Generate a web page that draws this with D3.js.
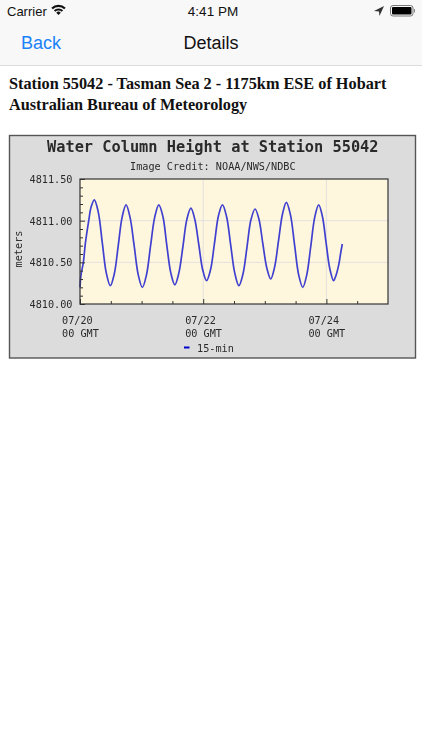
<!DOCTYPE html>
<html>
<head>
<meta charset="utf-8">
<script src="https://cdn.jsdelivr.net/npm/d3@7"></script>
<style>
html, body { margin: 0; padding: 0; background: #fff; }
svg { display: block; }
.ui { font-family: "Liberation Sans", sans-serif; }
.mono { font-family: "DejaVu Sans Mono", monospace; fill: #2a2a2a; filter: url(#soft); }
.axis path { display: none; }
</style>
</head>
<body>
<div id="chart"></div>
<script>
// hours since 07/20 00 GMT
var hours = [0, 0.4, 1.3, 2.1, 3.4, 4.3, 5.58,
    7.14, 8.7, 10.26, 11.82, 13.35, 14.9, 16.4, 17.95,
    19.5, 21.1, 22.7, 24.3, 25.9, 27.5, 29.1, 30.7,
    32.3, 33.8, 35.4, 36.96, 38.5, 40.1, 41.6, 43.2,
    44.7, 46.25, 47.8, 49.3, 50.85, 52.4, 53.95, 55.5,
    57.1, 58.7, 60.3, 61.9, 63.5, 65.05, 66.6, 68.2,
    69.7, 71.25, 72.8, 74.3, 75.8, 77.35, 78.9, 80.4,
    82, 83.6, 85.2, 86.8, 88.35, 89.9, 91.45, 93,
    94.45, 95.9, 97.35, 98.8, 99.7, 100.8, 101.5, 102.2];
var heights = [4810.20, 4810.35, 4810.50, 4810.73, 4811.00, 4811.16, 4811.25,
    4811.10, 4810.73, 4810.37, 4810.22, 4810.36, 4810.70, 4811.04, 4811.19,
    4811.04, 4810.70, 4810.35, 4810.20, 4810.35, 4810.70, 4811.04, 4811.19,
    4811.05, 4810.71, 4810.37, 4810.23, 4810.37, 4810.69, 4811.01, 4811.15,
    4811.02, 4810.72, 4810.41, 4810.28, 4810.41, 4810.73, 4811.06, 4811.19,
    4811.05, 4810.71, 4810.37, 4810.22, 4810.36, 4810.68, 4811.01, 4811.14,
    4811.02, 4810.72, 4810.43, 4810.30, 4810.44, 4810.76, 4811.08, 4811.22,
    4811.07, 4810.71, 4810.35, 4810.20, 4810.35, 4810.69, 4811.04, 4811.19,
    4811.05, 4810.73, 4810.42, 4810.28, 4810.34, 4810.47, 4810.60, 4810.72];
var yLabelTicks = [4810, 4810.5, 4811, 4811.5];
var yMinorTicks = [4810.1, 4810.2, 4810.3, 4810.4, 4810.6, 4810.7, 4810.8, 4810.9,
    4811.1, 4811.2, 4811.3, 4811.4];
var xLabelHours = [0, 48, 96];
var xLabelDates = ["07/20", "07/22", "07/24"];
var xMinorHours = [12, 24, 36, 60, 72, 84, 108];
var headline = ["Station 55042 - Tasman Sea 2 - 1175km ESE of Hobart",
    "Australian Bureau of Meteorology"];

var svg = d3.select("#chart").append("svg").attr("width", 422).attr("height", 750);
svg.append("defs").append("filter").attr("id", "soft")
    .append("feGaussianBlur").attr("stdDeviation", 0.25);

// status bar and nav bar
svg.append("rect").attr("width", 422).attr("height", 65).attr("fill", "#f8f8f8");
svg.append("line").attr("x1", 0).attr("x2", 422).attr("y1", 65.5).attr("y2", 65.5).attr("stroke", "#dcdcdc");

function uiText(x, y, size, weight, color, anchor, str) {
    svg.append("text").attr("class", "ui").attr("x", x).attr("y", y)
        .attr("font-size", size).attr("font-weight", weight).attr("fill", color)
        .attr("text-anchor", anchor).text(str);
}
uiText(7, 15.5, 13, 400, "#111", "start", "Carrier");
uiText(213, 15.5, 13.5, 400, "#111", "middle", "4:41 PM");
uiText(21, 49, 18, 400, "#1a82f7", "start", "Back");
uiText(211, 49, 18, 400, "#111", "middle", "Details");

// wifi
var wifi = svg.append("g").attr("transform", "translate(58.5,15)");
var wifiArc = d3.arc().startAngle(-Math.PI / 4).endAngle(Math.PI / 4);
[[0, 3.2], [4.6, 6.6], [8, 10.2]].forEach(function(r) {
    wifi.append("path").attr("fill", "#111")
        .attr("d", wifiArc({innerRadius: r[0], outerRadius: r[1]}));
});
// location arrow
svg.append("path").attr("d", "M384,6 L374,11 L379,11.5 L379.5,16 Z").attr("fill", "#333");
// battery
svg.append("rect").attr("x", 390.5).attr("y", 5.5).attr("width", 22.5).attr("height", 10.5).attr("rx", 2.5)
    .attr("fill", "none").attr("stroke", "#777");
svg.append("rect").attr("x", 392).attr("y", 7).attr("width", 19.5).attr("height", 7.5).attr("rx", 1).attr("fill", "#000");
svg.append("rect").attr("x", 414).attr("y", 9).attr("width", 1).attr("height", 3.5).attr("fill", "#888");

// headline
svg.selectAll(".headline").data(headline).enter().append("text")
    .attr("class", "headline")
    .attr("x", 9)
    .attr("y", function(d, i) { return 89 + i * 21; })
    .attr("font-family", "'Liberation Serif', serif")
    .attr("font-weight", "bold")
    .attr("font-size", 16.25)
    .attr("fill", "#111")
    .text(function(d) { return d; });

// chart image
var margin = {left: 80, right: 388, top: 179, bottom: 304};
svg.append("rect").attr("x", 9.5).attr("y", 135.5).attr("width", 406).attr("height", 222.5)
    .attr("fill", "#dcdcdc").attr("stroke", "#555").attr("stroke-width", 1.4);
svg.append("rect").attr("x", margin.left).attr("y", margin.top)
    .attr("width", margin.right - margin.left).attr("height", margin.bottom - margin.top)
    .attr("fill", "#fef7dd");

var x = d3.scaleLinear().domain([0, 120]).range([margin.left, margin.right]);
var y = d3.scaleLinear().domain([4810, 4811.5]).range([margin.bottom, margin.top]);

// grid
svg.selectAll(".gy").data([4810.5, 4811]).enter().append("line")
    .attr("x1", margin.left).attr("x2", margin.right)
    .attr("y1", function(d) { return y(d); }).attr("y2", function(d) { return y(d); })
    .attr("stroke", "#e3dfe0");
svg.selectAll(".gx").data([48, 96]).enter().append("line")
    .attr("y1", margin.top).attr("y2", margin.bottom)
    .attr("x1", function(d) { return x(d); }).attr("x2", function(d) { return x(d); })
    .attr("stroke", "#e3dfe0");

var line = d3.line()
    .x(function(d, i) { return x(hours[i]); })
    .y(function(d) { return y(d); })
    .curve(d3.curveCatmullRom);
svg.append("path").datum(heights).attr("d", line)
    .attr("fill", "none").attr("stroke", "#4040d0").attr("stroke-width", 1.7);

// axes
function tickAxis(axis, size, values, transform) {
    var g = svg.append("g").attr("class", "axis").attr("transform", transform)
        .call(axis.tickValues(values).tickSize(size).tickFormat(""));
    g.selectAll("line").attr("stroke", "#333");
    return g;
}
tickAxis(d3.axisLeft(y), -3, yMinorTicks, "translate(" + margin.left + ",0)");
tickAxis(d3.axisLeft(y), -5, yLabelTicks, "translate(" + margin.left + ",0)");
tickAxis(d3.axisBottom(x), -3, xMinorHours, "translate(0," + margin.bottom + ")");
tickAxis(d3.axisBottom(x), -5, xLabelHours, "translate(0," + margin.bottom + ")");

svg.append("rect").attr("x", margin.left).attr("y", margin.top)
    .attr("width", margin.right - margin.left).attr("height", margin.bottom - margin.top)
    .attr("fill", "none").attr("stroke", "#333").attr("stroke-width", 1.2);

function mono(xPos, yPos, str, size, weight) {
    return svg.append("text").attr("class", "mono").attr("x", xPos).attr("y", yPos)
        .attr("font-size", size).attr("font-weight", weight || 400).text(str);
}
mono(47, 152, "Water Column Height at Station 55042", 15.3, "bold");
mono(130, 170, "Image Credit: NOAA/NWS/NDBC", 10.2);

yLabelTicks.forEach(function(v) {
    mono(72.5, y(v) + 4, d3.format(".2f")(v), 10.2).attr("text-anchor", "end");
});
xLabelHours.forEach(function(h, i) {
    mono(x(h) - 18, 324, xLabelDates[i], 10.2);
    mono(x(h) - 18, 337, "00 GMT", 10.2);
});
mono(22, 249, "meters", 10.2).attr("text-anchor", "middle")
    .attr("transform", "rotate(-90 22 249)");

svg.append("rect").attr("x", 184).attr("y", 346.5).attr("width", 5.5).attr("height", 2).attr("fill", "#0000cc");
mono(197, 351.5, "15-min", 10.2);
</script>
</body>
</html>
